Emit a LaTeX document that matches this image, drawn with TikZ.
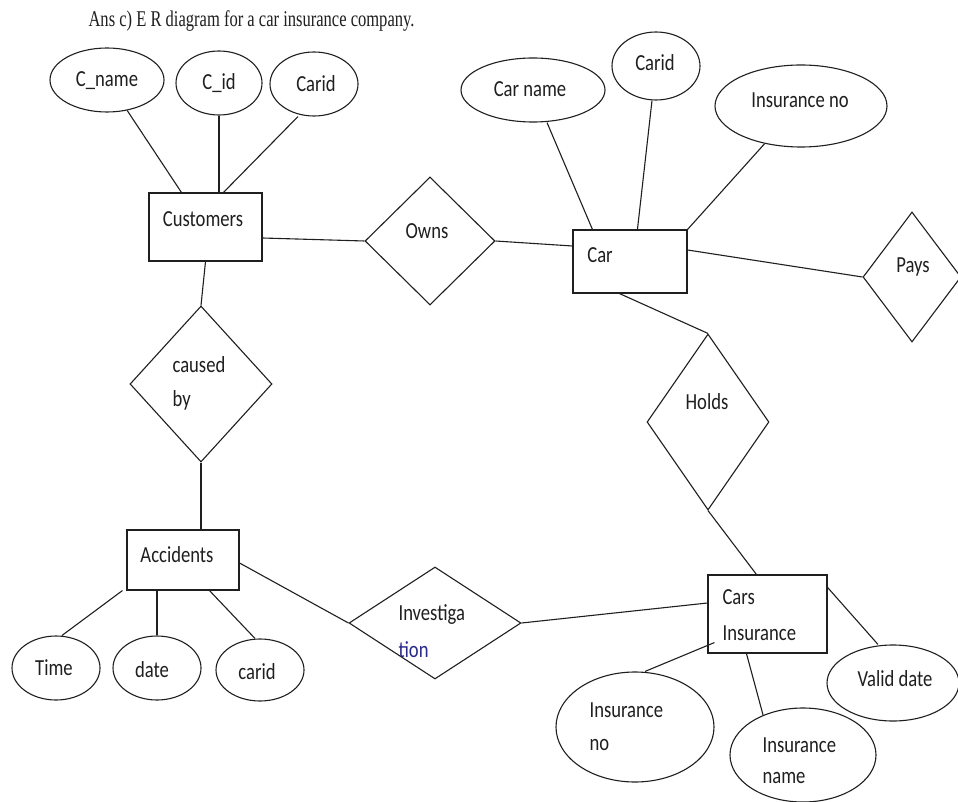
\documentclass[tikz,border=0pt]{standalone}
\usepackage{fontspec}
\setmainfont{Carlito}[FakeStretch=0.81]
\newfontfamily\titlefont{Liberation Serif}[FakeStretch=0.735]
\usetikzlibrary{shapes.geometric}
\definecolor{ink}{gray}{0.12}
\definecolor{pen}{RGB}{40,40,140}
\begin{document}
\begin{tikzpicture}[x=1pt,y=-1pt,
  color=ink, line width=1.1pt,
  attr/.style={ellipse, draw, inner sep=0pt},
  ent/.style={rectangle, draw, inner sep=0pt},
  rel/.style={diamond, draw, inner sep=0pt},
  lbl/.style={font=\fontsize{23}{26}\selectfont, inner sep=0pt},
  ttl/.style={font=\titlefont\fontsize{22.5}{26}\selectfont, inner sep=0pt, anchor=base west},
]
\useasboundingbox (0,0) rectangle (958,802);
\fill[white] (0,0) rectangle (958,802);

% title
\node[ttl] (title) at (88,27) {Ans c) E R diagram for a car insurance company.};

% entities
\node[ent, minimum width=113, minimum height=68] (cust) at (205.5,227) {};
\node[ent, minimum width=114, minimum height=63] (car) at (630,261.5) {};
\node[ent, minimum width=112, minimum height=60] (acc) at (183,560) {};
\node[ent, minimum width=119, minimum height=78] (ci) at (767.5,614) {};

% relationships
\node[rel, minimum width=130, minimum height=128] (owns) at (430,241) {};
\node[rel, minimum width=98, minimum height=130] (pays) at (912,277) {};
\node[rel, minimum width=122, minimum height=176] (holds) at (708,422) {};
\node[rel, minimum width=142, minimum height=156] (caused) at (201,384) {};
\node[rel, minimum width=172, minimum height=112] (inv) at (435,623) {};

% attributes
\node[attr, minimum width=114, minimum height=64] (cname) at (107,80) {};
\node[attr, minimum width=86, minimum height=64] (cid) at (219,83) {};
\node[attr, minimum width=88, minimum height=64] (caridA) at (314,84) {};
\node[attr, minimum width=144, minimum height=64] (carname) at (533,90) {};
\node[attr, minimum width=88, minimum height=68] (caridB) at (656,66) {};
\node[attr, minimum width=172, minimum height=82] (insnoA) at (801,106) {};
\node[attr, minimum width=88, minimum height=64] (time) at (56,668) {};
\node[attr, minimum width=88, minimum height=64] (date) at (157,668) {};
\node[attr, minimum width=88, minimum height=62] (caridC) at (260,670) {};
\node[attr, minimum width=158, minimum height=110] (insnoB) at (635,727) {};
\node[attr, minimum width=146, minimum height=94] (insname) at (803,755) {};
\node[attr, minimum width=132, minimum height=76] (valid) at (893,683) {};

% labels
\node[lbl] (tcust) at (203,219) {Customers};
\node[lbl] (tcar) at (600,255) {Car};
\node[lbl] (tacc) at (177,555) {Accidents};
\node[lbl, anchor=west] (tci1) at (722,597) {Cars};
\node[lbl, anchor=west] (tci2) at (722,633) {Insurance};
\node[lbl] (towns) at (427,231) {Owns};
\node[lbl] (tpays) at (913,267) {Pays};
\node[lbl] (tholds) at (707,402) {Holds};
\node[lbl, anchor=west] (tcaused1) at (172,365) {caused};
\node[lbl, anchor=west] (tcaused2) at (172,400) {by};
\node[lbl, anchor=west] (tinv1) at (398,615) {Investiga};
\node[lbl, anchor=west, text=pen] (tinv2) at (398,650) {tion};
\node[lbl] (tcname) at (107,81) {C\_name};
\node[lbl] (tcid) at (219,83) {C\_id};
\node[lbl] (tcaridA) at (316,84) {Carid};
\node[lbl] (tcarname) at (530,89) {Car name};
\node[lbl] (tcaridB) at (655,63) {Carid};
\node[lbl] (tinsnoA) at (800,100) {Insurance no};
\node[lbl] (ttime) at (54,668) {Time};
\node[lbl] (tdate) at (152,670) {date};
\node[lbl] (tcaridC) at (257,672) {carid};
\node[lbl, anchor=west] (tinsnoB1) at (589,710) {Insurance};
\node[lbl, anchor=west] (tinsnoB2) at (589,745) {no};
\node[lbl, anchor=west] (tinsname1) at (762,745) {Insurance};
\node[lbl, anchor=west] (tinsname2) at (762,778) {name};
\node[lbl] (tvalid) at (895,679) {Valid date};

% connectors
\draw (cname) -- ([xshift=33pt]cust.north west);
\draw (cid) -- (cid |- cust.north);
\draw ([xshift=-16pt]caridA.south) -- ([xshift=75pt]cust.north west);
\draw ([yshift=-11pt]cust.east) -- (owns.west);
\draw (owns.east) -- ([yshift=15.5pt]car.west);
\draw ([xshift=14pt]carname.south) -- ([xshift=20pt]car.north west);
\draw ([xshift=-4pt]caridB.south) -- ([xshift=65pt]car.north west);
\draw (insnoA.-134) -- (car.north east);
\draw ([yshift=11.5pt]car.east) -- (pays.west);
\draw ([xshift=47pt]car.south west) -- (holds.north);
\draw (holds.south) -- ([xshift=49pt]ci.north west);
\draw (cust.south) -- (caused.north);
\draw (caused.south) -- (caused.south |- acc.north);
\draw ([yshift=-3pt]acc.east) -- (inv.west);
\draw (inv.east) -- ([yshift=11pt]ci.west);
\draw ([xshift=6pt]time.north) -- ([xshift=-4pt]acc.south west);
\draw (date) -- (date |- acc.south);
\draw ([xshift=-5pt]caridC.north) -- ([xshift=83pt]acc.south west);
\draw ([xshift=10pt]insnoB.north) -- ([xshift=7pt,yshift=11pt]ci.south west);
\draw (insname.135) -- ([xshift=39pt]ci.south west);
\draw ([xshift=-15pt]valid.north) -- ([yshift=-13pt]ci.north east);
\end{tikzpicture}
\end{document}
